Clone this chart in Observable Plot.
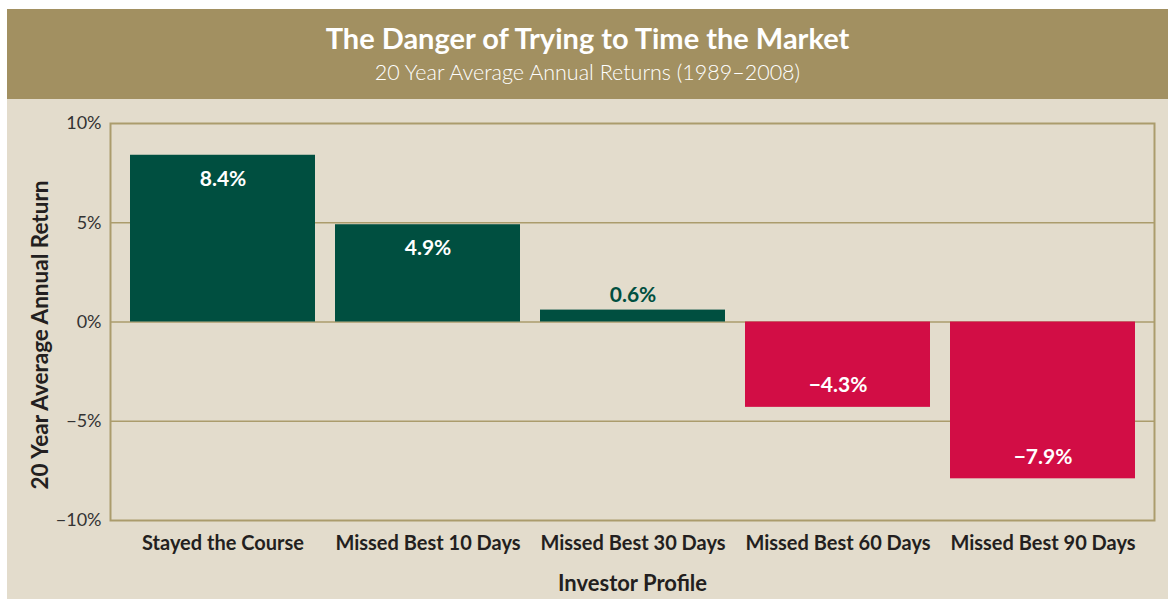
<!DOCTYPE html>
<html>
<head>
<meta charset="utf-8">
<script src="https://cdn.jsdelivr.net/npm/d3@7"></script>
<script src="https://cdn.jsdelivr.net/npm/@observablehq/plot@0.6"></script>
<style>
  html, body { margin: 0; padding: 0; background: #ffffff; width: 1170px; height: 601px; overflow: hidden; }
  #panel { position: absolute; left: 7px; top: 9px; width: 1161px; height: 590px; background: #e3dccc; }
  #header { height: 90px; background: #a29061; color: #fff; text-align: center; font-family: Lato, sans-serif; }
  #title { padding-top: 13px; font-size: 29px; font-weight: 700; line-height: 32px; }
  #subtitle { margin-top: 5px; font-size: 21.5px; font-weight: 300; line-height: 26px; }
  #chart svg { display: block; }
</style>
</head>
<body>
<div id="panel">
  <div id="header">
    <div id="title">The Danger of Trying to Time the Market</div>
    <div id="subtitle">20 Year Average Annual Returns (1989–2008)</div>
  </div>
  <div id="chart"></div>
</div>
<script>
const categories = ["Stayed the Course", "Missed Best 10 Days", "Missed Best 30 Days", "Missed Best 60 Days", "Missed Best 90 Days"];
const returns = [8.4, 4.9, 0.6, -4.3, -7.9];
const yTicks = [-10, -5, 0, 5, 10];
const gridLines = [-5, 0, 5];
const yLabel = "20 Year Average Annual Return";
const xLabel = "Investor Profile";

const green = "#004f40";
const red = "#d20d45";
const gold = "#ab9c6c";
const ink = "#231f20";

const data = categories.map((c, i) => ({ profile: c, value: returns[i] }));
const fmtPct = v => (v < 0 ? "\u2212" : "") + Math.abs(v).toFixed(1) + "%";
const fmtTick = v => (v < 0 ? "\u2212" : "") + Math.abs(v) + "%";

const chart = Plot.plot({
  width: 1161,
  height: 500,
  marginTop: 24,
  marginBottom: 79,
  marginLeft: 103,
  marginRight: 14,
  style: { background: "transparent", fontFamily: "Lato, sans-serif", color: ink },
  x: { domain: categories, paddingInner: 0.0976, paddingOuter: 0.095, label: xLabel },
  y: { domain: [-10, 10], ticks: yTicks, label: null },
  marks: [
    Plot.ruleY(gridLines, { stroke: gold, strokeWidth: 1.5 }),
    Plot.barY(data, { x: "profile", y: "value", fill: d => d.value >= 0 ? green : red }),
    Plot.text(data.filter(d => d.value >= 2), { x: "profile", y: "value", text: d => fmtPct(d.value), dy: 24, fill: "#fff", fontSize: 21, fontWeight: 700 }),
    Plot.text(data.filter(d => d.value >= 0 && d.value < 2), { x: "profile", y: "value", text: d => fmtPct(d.value), dy: -15, fill: green, fontSize: 21, fontWeight: 700 }),
    Plot.text(data.filter(d => d.value < 0), { x: "profile", y: "value", text: d => fmtPct(d.value), dy: -22, fill: "#fff", fontSize: 21, fontWeight: 700 }),
    Plot.frame({ stroke: gold, strokeWidth: 2 }),
    Plot.axisY({ ticks: yTicks, tickFormat: fmtTick, tickSize: 0, tickPadding: 9, fontSize: 18, fill: "#333", label: null }),
    Plot.axisX({ tickSize: 0, tickPadding: 15, fontSize: 20, fontWeight: 700, fill: ink, label: xLabel, labelAnchor: "center", labelArrow: "none", labelOffset: 70 })
  ]
});
document.getElementById("chart").appendChild(chart);

d3.select(chart).selectAll("[aria-label='x-axis label'] text")
  .attr("font-size", 22).attr("font-weight", 700).attr("fill", ink);

// y-axis title, placed where the reference shows it
d3.select(chart).append("text")
  .attr("transform", "translate(33,236) rotate(-90)")
  .attr("text-anchor", "middle")
  .attr("dy", "0.35em")
  .attr("font-family", "Lato, sans-serif")
  .attr("font-size", 22.5)
  .attr("font-weight", 700)
  .attr("fill", ink)
  .text(yLabel);
</script>
</body>
</html>
